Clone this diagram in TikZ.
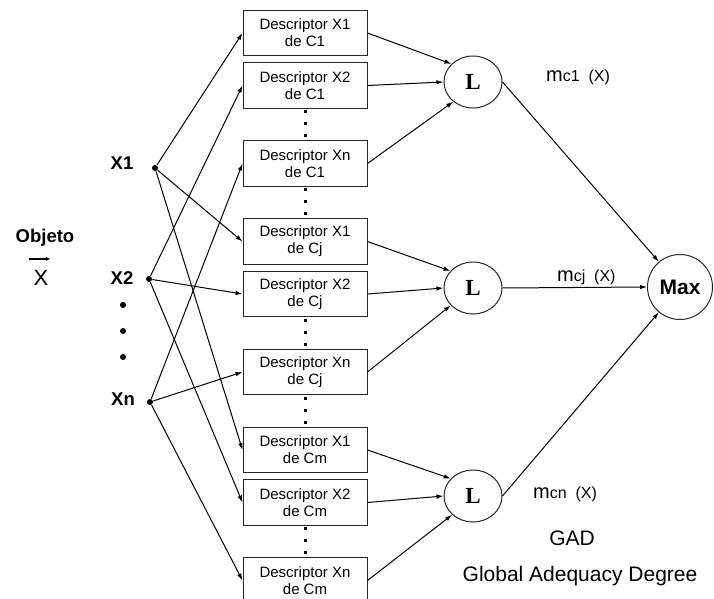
\documentclass[tikz,border=0pt]{standalone}
\usepackage{fontspec}
\setmainfont{Liberation Sans}
\newfontfamily\timesfont{Liberation Serif}
\usetikzlibrary{shapes,arrows.meta,positioning}

\tikzset{
  desc/.style={draw=black!85, line width=1pt, minimum width=124pt, minimum height=45.5pt,
    inner sep=0pt, align=center, font=\fontsize{15}{17}\selectfont},
  lnode/.style={draw=black!85, ellipse, line width=1pt, minimum width=58pt, minimum height=52pt,
    inner sep=0pt, font=\timesfont\bfseries\fontsize{23}{23}\selectfont},
  maxnode/.style={draw=black!85, circle, line width=1pt, minimum size=65pt, inner sep=0pt,
    font=\bfseries\fontsize{21}{21}\selectfont},
  xlbl/.style={font=\bfseries\fontsize{18.5}{18.5}\selectfont},
  dot/.style={circle, fill, inner sep=0pt, minimum size=6pt},
  mlbl/.style={font=\fontsize{16}{16}\selectfont, inner sep=2pt},
  vdots/.style={-, line width=3pt, dash pattern=on 3pt off 9pt, shorten <=1.5pt}
}

\begin{document}
\begin{tikzpicture}[x=1pt, y=-1pt, ->, >={Latex[length=7pt,width=4.5pt]}, line width=1pt, node distance=6pt]
  \useasboundingbox (0,0) rectangle (714,599);

  % descriptors
  \node[desc] (D11) at (305,33)   {Descriptor X1\\de C1};
  \node[desc] (D21) [below=of D11]        {Descriptor X2\\de C1};
  \node[desc] (Dn1) [below=31.5pt of D21] {Descriptor Xn\\de C1};
  \node[desc] (D1j) [below=31.5pt of Dn1] {Descriptor X1\\de Cj};
  \node[desc] (D2j) [below=of D1j]        {Descriptor X2\\de Cj};
  \node[desc] (Dnj) [below=31.5pt of D2j] {Descriptor Xn\\de Cj};
  \node[desc] (D1m) [below=31.5pt of Dnj] {Descriptor X1\\de Cm};
  \node[desc] (D2m) [below=of D1m]        {Descriptor X2\\de Cm};
  \node[desc] (Dnm) [below=31.5pt of D2m] {Descriptor Xn\\de Cm};

  \foreach \a/\b in {D21/Dn1, Dn1/D1j, D2j/Dnj, Dnj/D1m, D2m/Dnm}
    \draw[vdots] (\a.south) -- (\b.north);

  % inputs
  \node[inner sep=1pt, font=\bfseries\fontsize{18.5}{18.5}\selectfont] (obj) at (45,238) {Objeto};
  \node[inner sep=1pt, font=\fontsize{22}{22}\selectfont] (vecX) at (41,278) {X};
  \draw[>={Latex[length=5pt,width=4pt]}, line width=1.2pt]
    ([xshift=-3pt,yshift=10pt]vecX.north west) -- ([xshift=1pt,yshift=10pt]vecX.north east);

  \node[xlbl] (X1) at (122,163) {X1};
  \node[xlbl] (X2) at (122,278) {X2};
  \node[xlbl] (Xn) at (123,399) {Xn};
  \node[dot] (p1) at (155,168) {};
  \node[dot] (p2) at (149,279) {};
  \node[dot] (pn) at (150,402) {};
  \foreach \y in {305,331,357}
    \fill (123,\y) circle (3pt);

  % aggregation
  \node[lnode] (L1) at (473,82)  {L};
  \node[lnode] (Lj) at (473,288) {L};
  \node[lnode] (Lm) at (473,496) {L};
  \node[maxnode] (Max) at (680,287) {Max};

  \path
  (p1) edge (D11.west)
       edge (D1j.west)
       edge (D1m.west)
  (p2) edge (D21.west)
       edge (D2j.west)
       edge (D2m.west)
  (pn) edge (Dn1.west)
       edge (Dnj.west)
       edge (Dnm.west)
  (D11.east) edge (L1.140)
  (D21.east) edge (L1.west)
  (Dn1.east) edge (L1.225)
  (D1j.east) edge (Lj.143)
  (D2j.east) edge (Lj.west)
  (Dnj.east) edge (Lj.218)
  (D1m.east) edge (Lm.142)
  (D2m.east) edge (Lm.west)
  (Dnm.east) edge (Lm.222)
  (L1.east) edge (Max.130)
  (Lj.east) edge node[mlbl, above, pos=0.58] {{\fontsize{20}{20}\selectfont m}cj\ \ (X)} (Max.west)
  (Lm.east) edge (Max.230);

  % labels
  \node[mlbl] (m1) at (578,77)  {{\fontsize{20}{20}\selectfont m}c1\ \ (X)};
  \node[mlbl] (mn) at (565,494) {{\fontsize{20}{20}\selectfont m}cn\ \ (X)};
  \node[font=\fontsize{21}{21}\selectfont] (gad) at (572,538) {GAD};
  \node[font=\fontsize{21}{21}\selectfont] (gadl) at (580,576) {Global Adequacy Degree};
\end{tikzpicture}
\end{document}
